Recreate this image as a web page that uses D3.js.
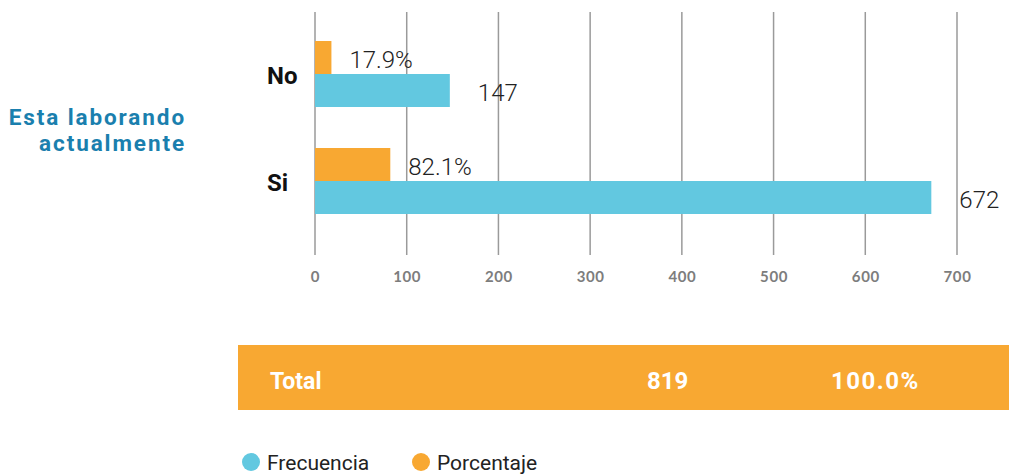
<!DOCTYPE html>
<html>
<head>
<meta charset="utf-8">
<script src="https://cdn.jsdelivr.net/npm/d3@7"></script>
<style>
  html, body { margin: 0; padding: 0; background: #fff; }
  svg { display: block; }
</style>
</head>
<body>
<svg id="chart" width="1009" height="476"></svg>
<script>
// ---- data ----
const categories = ["No", "Si"];
const frecuencia = [147, 672];
const porcentaje = [17.9, 82.1];
const xTicks = [0, 100, 200, 300, 400, 500, 600, 700];
const title = ["Esta laborando", "actualmente"];
const totalLabel = "Total";
const totalFrecuencia = 819;
const totalPorcentaje = 100.0;
const seriesNames = ["Frecuencia", "Porcentaje"];

// ---- styles ----
const BLUE = "#62C8E0", ORANGE = "#F8A832", TITLE = "#1A7FAE";

const svg = d3.select("#chart");
const x = d3.scaleLinear().domain([0, 700]).range([315, 957]);
const y = d3.scalePoint().domain(categories).range([74, 181]);
const barH = 33;

// gridlines
svg.append("g").selectAll("line").data(xTicks).join("line")
  .attr("x1", d => x(d)).attr("x2", d => x(d))
  .attr("y1", 12).attr("y2", 255)
  .attr("stroke", "#9a9a9a").attr("stroke-width", 1.5);

// x axis tick labels
const axis = d3.axisBottom(x).tickValues(xTicks).tickSize(0).tickPadding(0);
const ax = svg.append("g").attr("transform", "translate(0,272)").call(axis);
ax.select(".domain").remove();
ax.selectAll("text")
  .attr("dy", "0.68em")
  .attr("fill", "#7d7d7d")
  .style("font-family", "Lato, 'Open Sans', sans-serif")
  .style("font-weight", 700)
  .style("font-size", "15px")
  .style("letter-spacing", "0.6px");

// bars
const rows = categories.map((c, i) => ({ c, f: frecuencia[i], p: porcentaje[i] }));
svg.append("g").selectAll("rect").data(rows).join("rect")
  .attr("x", x(0)).attr("y", d => y(d.c) - barH)
  .attr("width", d => x(d.p) - x(0)).attr("height", barH)
  .attr("fill", ORANGE);
svg.append("g").selectAll("rect").data(rows).join("rect")
  .attr("x", x(0)).attr("y", d => y(d.c))
  .attr("width", d => x(d.f) - x(0)).attr("height", barH)
  .attr("fill", BLUE);

const valFont = "Roboto, 'Open Sans', sans-serif";
svg.append("g").selectAll("text").data(rows).join("text")
  .attr("x", d => x(d.p) + 18).attr("y", d => y(d.c) - barH / 2 + 2)
  .attr("dominant-baseline", "central")
  .attr("fill", "#222")
  .style("font-family", valFont).style("font-weight", 300).style("font-size", "24px")
  .text(d => d.p.toFixed(1) + "%");
svg.append("g").selectAll("text").data(rows).join("text")
  .attr("x", d => x(d.f) + 28).attr("y", d => y(d.c) + barH / 2 + 2)
  .attr("dominant-baseline", "central")
  .attr("fill", "#222")
  .style("font-family", valFont).style("font-weight", 300).style("font-size", "24px")
  .text(d => d.f);

// category labels
svg.append("g").selectAll("text").data(categories).join("text")
  .attr("x", 267).attr("y", d => y(d) + 2)
  .attr("dominant-baseline", "central")
  .attr("fill", "#111")
  .style("font-family", "Roboto, sans-serif").style("font-weight", 700).style("font-size", "24px")
  .text(d => d);

// title
svg.append("g").selectAll("text").data(title).join("text")
  .attr("x", 186).attr("y", (d, i) => 125 + i * 26)
  .attr("text-anchor", "end")
  .attr("fill", TITLE)
  .style("font-family", "Roboto, sans-serif").style("font-weight", 700).style("font-size", "22.5px")
  .style("letter-spacing", "1.9px")
  .text(d => d);

// total band
svg.append("rect").attr("x", 238).attr("y", 345).attr("width", 1009 - 238).attr("height", 65).attr("fill", ORANGE);
const totFont = "Roboto, sans-serif";
svg.append("text").attr("x", 270).attr("y", 381).attr("dominant-baseline", "central")
  .attr("fill", "#fff").style("font-family", totFont).style("font-weight", 700).style("font-size", "23px")
  .text(totalLabel);
svg.append("text").attr("x", 647).attr("y", 381).attr("dominant-baseline", "central")
  .attr("fill", "#fff").style("font-family", totFont).style("font-weight", 700).style("font-size", "24px")
  .text(totalFrecuencia);
svg.append("text").attr("x", 831).attr("y", 381).attr("dominant-baseline", "central")
  .attr("fill", "#fff").style("font-family", totFont).style("font-weight", 700).style("font-size", "24px")
  .style("letter-spacing", "1.5px")
  .text(totalPorcentaje.toFixed(1) + "%");

// legend
const legendX = [251, 421];
const legColors = [BLUE, ORANGE];
const leg = svg.append("g").selectAll("g").data(seriesNames).join("g")
  .attr("transform", (d, i) => `translate(${legendX[i]},462)`);
leg.append("circle").attr("r", 9).attr("fill", (d, i) => legColors[i]);
leg.append("text").attr("x", 16).attr("dominant-baseline", "central").attr("y", 1)
  .attr("fill", "#222")
  .style("font-family", "Roboto, sans-serif").style("font-size", "21px")
  .text(d => d);
</script>
</body>
</html>
